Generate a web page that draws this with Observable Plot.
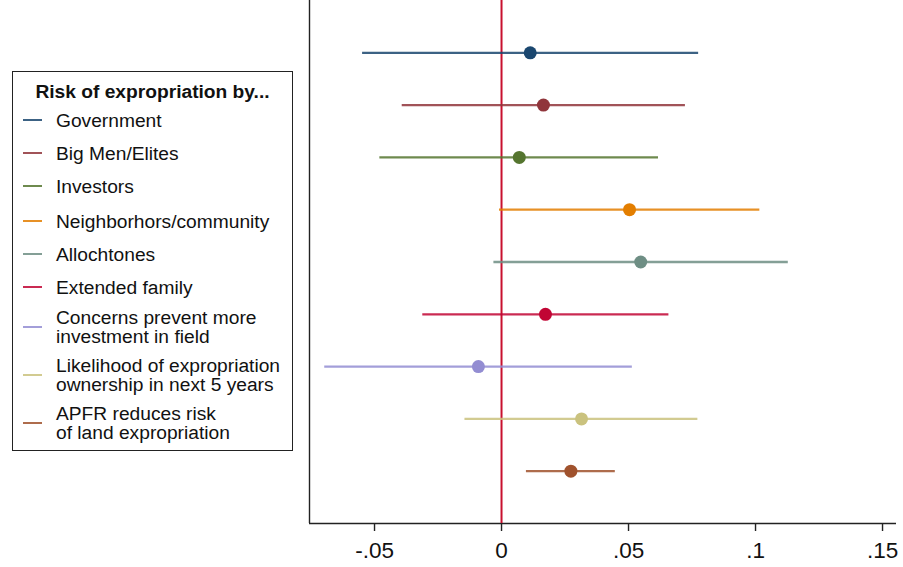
<!DOCTYPE html>
<html>
<head>
<meta charset="utf-8">
<script src="https://cdn.jsdelivr.net/npm/d3@7"></script>
<script src="https://cdn.jsdelivr.net/npm/@observablehq/plot@0.6"></script>
<style>
  html, body { margin: 0; padding: 0; background: #fff; }
  #wrap { position: relative; width: 903px; height: 567px; font-family: "Liberation Sans", Arial, sans-serif; }
  #legend {
    position: absolute; left: 12px; top: 71px; width: 281px; height: 380px;
    border: 1.3px solid #222; background: #fff; box-sizing: border-box;
  }
  #legend .title { position: absolute; left: 0; right: 0; top: 9px; text-align: center; font-weight: bold; font-size: 19.2px; color: #111; }
  #legend .entry { position: absolute; left: 0; display: flex; align-items: center; }
  #legend .key { width: 19px; height: 2.4px; margin-left: 10px; margin-right: 14px; }
  #legend .label { font-size: 19.2px; line-height: 19px; color: #111; }
</style>
</head>
<body>
<div id="wrap"></div>
<script>
// Outcomes, point estimates and 95% confidence bounds
const labels = [
  "Government",
  "Big Men/Elites",
  "Investors",
  "Neighborhors/community",
  "Allochtones",
  "Extended family",
  "Concerns prevent more\ninvestment in field",
  "Likelihood of expropriation\nownership in next 5 years",
  "APFR reduces risk\nof land expropriation"
];
const estimates = [0.0113, 0.0165, 0.0070, 0.0504, 0.0548, 0.0173, -0.0091, 0.0315, 0.0273];
const lower     = [-0.0547, -0.0391, -0.0479, -0.0008, -0.0030, -0.0310, -0.0696, -0.0144, 0.0098];
const upper     = [0.0776, 0.0724, 0.0618, 0.1017, 0.1129, 0.0659, 0.0515, 0.0773, 0.0448];
const colors    = ["#1a476f", "#90353b", "#55752f", "#e37e00", "#6e8e84", "#c10534", "#938dd2", "#cac27e", "#a0522d"];

const xTicks = [-0.05, 0, 0.05, 0.1, 0.15];
const xTickLabels = ["-.05", "0", ".05", ".1", ".15"];
const xDomain = [-0.0756, 0.1555];

const rows = labels.map((label, i) => ({
  label, pos: i + 1, est: estimates[i], lo: lower[i], hi: upper[i], color: colors[i]
}));

const chart = Plot.plot({
  width: 903,
  height: 567,
  marginLeft: 309,
  marginRight: 7,
  marginTop: 0,
  marginBottom: 44,
  style: { fontFamily: "Liberation Sans, Arial, sans-serif", background: "#fff", overflow: "visible" },
  x: { domain: xDomain },
  y: { domain: [10, 0], axis: null },
  marks: [
    // left and bottom axis lines
    Plot.ruleX([xDomain[0]], { stroke: "#222", strokeWidth: 1.4 }),
    Plot.ruleY([10], { stroke: "#222", strokeWidth: 1.4 }),
    // reference line at zero
    Plot.ruleX([0], { stroke: "#c8102e", strokeWidth: 2 }),
    // confidence intervals
    Plot.ruleY(rows, { y: "pos", x1: "lo", x2: "hi", stroke: "color", strokeWidth: 2.3, strokeOpacity: 0.85 }),
    // point estimates
    Plot.dot(rows, { x: "est", y: "pos", r: 6.5, fill: "color", stroke: "none" }),
    Plot.axisX({
      ticks: xTicks,
      tickFormat: (d) => xTickLabels[xTicks.indexOf(d)],
      tickSize: 8,
      tickPadding: 11,
      fontSize: 22.5,
      stroke: "#222",
      strokeWidth: 1.4,
      color: "#111",
      label: null
    })
  ]
});

const wrap = document.getElementById("wrap");
wrap.appendChild(chart);

// legend box drawn over the left margin
const legend = document.createElement("div");
legend.id = "legend";
const title = document.createElement("div");
title.className = "title";
title.textContent = "Risk of expropriation by...";
legend.appendChild(title);

const entryCenters = [48, 81, 114, 149, 182, 215, 255, 303, 351];
labels.forEach((label, i) => {
  const entry = document.createElement("div");
  entry.className = "entry";
  const lines = label.split("\n").length;
  const h = lines * 19;
  entry.style.top = (entryCenters[i] - h / 2) + "px";
  entry.style.height = h + "px";
  const key = document.createElement("div");
  key.className = "key";
  key.style.background = colors[i];
  key.style.opacity = 0.85;
  const text = document.createElement("div");
  text.className = "label";
  text.innerHTML = label.split("\n").join("<br>");
  entry.appendChild(key);
  entry.appendChild(text);
  legend.appendChild(entry);
});
wrap.appendChild(legend);
</script>
</body>
</html>
